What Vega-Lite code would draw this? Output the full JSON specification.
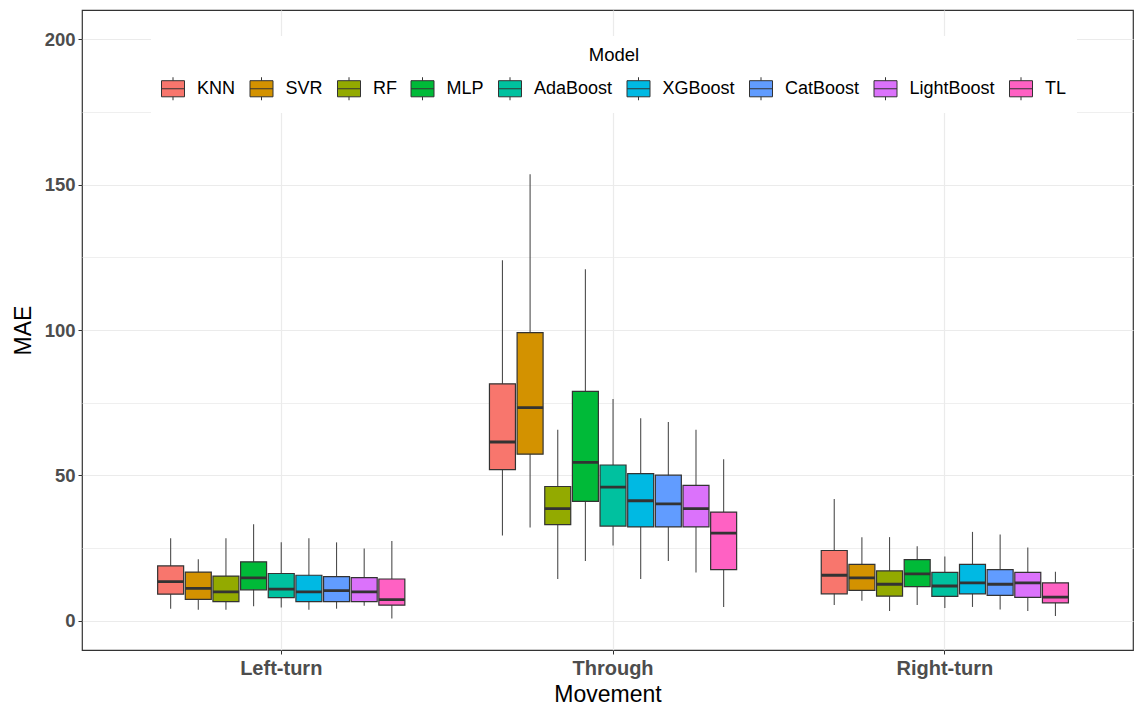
{
  "$schema": "https://vega.github.io/schema/vega-lite/v6.json",
  "width": 1051,
  "height": 640,
  "autosize": {"type": "none"},
  "padding": {"left": 82, "top": 10, "right": 4, "bottom": 57},
  "background": "white",
  "config": {
    "view": {"stroke": "#333333", "strokeWidth": 1.2},
    "font": "Liberation Sans"
  },
  "data": {
    "values": [
      {"Movement": "Left-turn", "Model": "KNN", "lo": 4.2, "q1": 9.2, "med": 13.5, "q3": 18.9, "hi": 28.4},
      {"Movement": "Left-turn", "Model": "SVR", "lo": 3.8, "q1": 7.4, "med": 11.2, "q3": 16.8, "hi": 21.2},
      {"Movement": "Left-turn", "Model": "RF", "lo": 3.8, "q1": 6.6, "med": 10.0, "q3": 15.4, "hi": 28.4},
      {"Movement": "Left-turn", "Model": "MLP", "lo": 5.0, "q1": 10.7, "med": 14.8, "q3": 20.3, "hi": 33.2},
      {"Movement": "Left-turn", "Model": "AdaBoost", "lo": 4.6, "q1": 8.0, "med": 10.9, "q3": 16.3, "hi": 27.0},
      {"Movement": "Left-turn", "Model": "XGBoost", "lo": 3.8, "q1": 6.6, "med": 10.0, "q3": 15.7, "hi": 28.4},
      {"Movement": "Left-turn", "Model": "CatBoost", "lo": 4.2, "q1": 6.6, "med": 10.4, "q3": 15.2, "hi": 27.0},
      {"Movement": "Left-turn", "Model": "LightBoost", "lo": 5.2, "q1": 6.6, "med": 10.0, "q3": 14.9, "hi": 24.9},
      {"Movement": "Left-turn", "Model": "TL", "lo": 0.8, "q1": 5.4, "med": 7.3, "q3": 14.4, "hi": 27.5},
      {"Movement": "Through", "Model": "KNN", "lo": 29.4, "q1": 52.0, "med": 61.5, "q3": 81.5, "hi": 124.0},
      {"Movement": "Through", "Model": "SVR", "lo": 32.1, "q1": 57.3, "med": 73.3, "q3": 99.1, "hi": 153.5},
      {"Movement": "Through", "Model": "RF", "lo": 14.4, "q1": 33.1, "med": 38.6, "q3": 46.2, "hi": 65.7},
      {"Movement": "Through", "Model": "MLP", "lo": 20.6, "q1": 41.1, "med": 54.5, "q3": 78.9, "hi": 120.9},
      {"Movement": "Through", "Model": "AdaBoost", "lo": 25.9, "q1": 32.6, "med": 46.0, "q3": 53.6, "hi": 76.3},
      {"Movement": "Through", "Model": "XGBoost", "lo": 14.4, "q1": 32.3, "med": 41.3, "q3": 50.6, "hi": 69.7},
      {"Movement": "Through", "Model": "CatBoost", "lo": 20.6, "q1": 32.3, "med": 40.2, "q3": 50.1, "hi": 68.4},
      {"Movement": "Through", "Model": "LightBoost", "lo": 16.6, "q1": 32.3, "med": 38.6, "q3": 46.6, "hi": 65.7},
      {"Movement": "Through", "Model": "TL", "lo": 4.8, "q1": 17.6, "med": 30.2, "q3": 37.4, "hi": 55.6},
      {"Movement": "Right-turn", "Model": "KNN", "lo": 5.5, "q1": 9.3, "med": 15.7, "q3": 24.2, "hi": 41.9},
      {"Movement": "Right-turn", "Model": "SVR", "lo": 6.9, "q1": 10.5, "med": 14.8, "q3": 19.4, "hi": 28.8},
      {"Movement": "Right-turn", "Model": "RF", "lo": 3.4, "q1": 8.5, "med": 12.6, "q3": 17.2, "hi": 28.8},
      {"Movement": "Right-turn", "Model": "MLP", "lo": 5.5, "q1": 11.8, "med": 16.2, "q3": 21.1, "hi": 25.7},
      {"Movement": "Right-turn", "Model": "AdaBoost", "lo": 4.4, "q1": 8.4, "med": 12.0, "q3": 16.7, "hi": 22.1},
      {"Movement": "Right-turn", "Model": "XGBoost", "lo": 4.8, "q1": 9.3, "med": 13.1, "q3": 19.4, "hi": 30.6},
      {"Movement": "Right-turn", "Model": "CatBoost", "lo": 3.9, "q1": 8.8, "med": 12.6, "q3": 17.6, "hi": 29.7},
      {"Movement": "Right-turn", "Model": "LightBoost", "lo": 3.4, "q1": 8.1, "med": 13.1, "q3": 16.7, "hi": 25.2},
      {"Movement": "Right-turn", "Model": "TL", "lo": 1.7, "q1": 6.2, "med": 8.2, "q3": 13.1, "hi": 16.9}
    ]
  },
  "encoding": {
    "x": {
      "field": "Movement", "type": "nominal",
      "sort": ["Left-turn", "Through", "Right-turn"],
      "scale": {"paddingInner": 0.25, "paddingOuter": 0.2088, "align": 0.54},
      "axis": {
        "title": "Movement", "titleFontSize": 23, "titleFontWeight": "normal", "titleColor": "#000000", "titlePadding": 5,
        "labelAngle": 0, "labelFontSize": 20, "labelFontWeight": "bold", "labelColor": "#4D4D4D", "labelPadding": 4,
        "tickColor": "#333333", "tickSize": 4, "domain": false,
        "grid": true, "gridColor": "#EBEBEB", "gridWidth": 1.2
      }
    },
    "xOffset": {
      "field": "Model", "type": "nominal",
      "sort": ["KNN", "SVR", "RF", "MLP", "AdaBoost", "XGBoost", "CatBoost", "LightBoost", "TL"],
      "scale": {"paddingInner": 0.06, "paddingOuter": 0.03}
    }
  },
  "layer": [
    {
      "mark": {"type": "rule", "color": "#4D4D4D", "strokeWidth": 1.1},
      "encoding": {
        "y": {
          "field": "lo", "type": "quantitative",
          "scale": {"domain": [-10, 210], "nice": false, "zero": false},
          "axis": {
            "title": "MAE", "titleFontSize": 23, "titleFontWeight": "normal", "titleColor": "#000000", "titlePadding": 9,
            "values": [0, 25, 50, 75, 100, 125, 150, 175, 200],
            "labelExpr": "datum.value % 50 === 0 ? datum.label : ''",
            "labelFontSize": 18.5, "labelFontWeight": "bold", "labelColor": "#4D4D4D", "labelPadding": 3,
            "tickSize": 4,
            "tickColor": {"condition": {"test": "datum.value % 50 === 0", "value": "#333333"}, "value": "transparent"},
            "domain": false,
            "grid": true,
            "gridColor": "#EBEBEB",
            "gridWidth": {"condition": {"test": "datum.value % 50 === 0", "value": 1.2}, "value": 0.8}
          }
        },
        "y2": {"field": "hi"}
      }
    },
    {
      "mark": {"type": "bar", "stroke": "#333333", "strokeWidth": 1.2},
      "encoding": {
        "y": {"field": "q1", "type": "quantitative"},
        "y2": {"field": "q3"},
        "color": {
          "field": "Model", "type": "nominal",
          "sort": ["KNN", "SVR", "RF", "MLP", "AdaBoost", "XGBoost", "CatBoost", "LightBoost", "TL"],
          "scale": {
            "domain": ["KNN", "SVR", "RF", "MLP", "AdaBoost", "XGBoost", "CatBoost", "LightBoost", "TL"],
            "range": ["#F8766D", "#D39200", "#93AA00", "#00BA38", "#00C19F", "#00B9E3", "#619CFF", "#DB72FB", "#FF61C3"]
          },
          "legend": {
            "title": "Model", "orient": "none", "direction": "horizontal", "columns": 9,
            "legendX": 69, "legendY": 26,
            "titleOrient": "top", "titleAnchor": "middle", "titleFontSize": 18.5, "titleFontWeight": "normal", "titleColor": "#000000", "titlePadding": 12,
            "labelFontSize": 18, "labelColor": "#000000", "labelOffset": 12,
            "symbolType": "M-1,-0.7H1V0.7H-1Z M-1,0H1 M0,-0.7V-1 M0,0.7V1",
            "symbolSize": 529, "symbolStrokeColor": "#333333", "symbolStrokeWidth": 1, "symbolFillOpacity": 1,
            "columnPadding": 11.5,
            "fillColor": "white", "padding": 10
          }
        }
      }
    },
    {
      "mark": {"type": "bar", "stroke": "#333333", "strokeWidth": 2.8, "fill": null},
      "encoding": {
        "y": {"field": "med", "type": "quantitative"},
        "y2": {"field": "med"}
      }
    }
  ]
}
